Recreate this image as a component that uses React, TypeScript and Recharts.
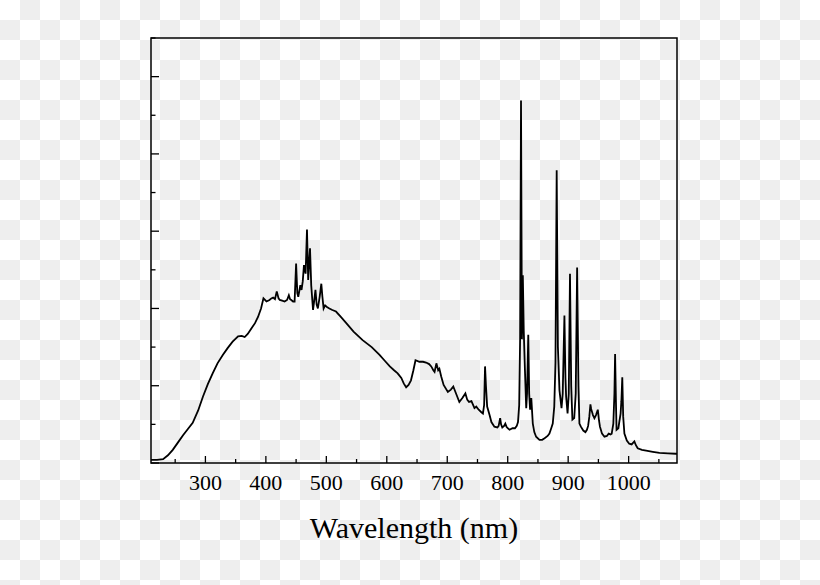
import React from "react";
import { LineChart, Line, XAxis, YAxis, ReferenceArea, Label } from "recharts";

const wavelength = [
  210, 220, 230, 238, 246, 255, 263, 271, 279, 288, 296, 304, 312, 320, 329, 337, 345, 354, 360, 365,
  370, 376, 382, 387, 392, 396, 401, 406, 409, 412, 415, 418, 421, 423, 427, 431, 435, 438, 440, 442,
  445, 447.5, 450, 452, 453.6, 457, 459, 461, 463, 465.7, 468, 470, 473, 475, 478, 480, 482, 484, 486, 489,
  491.7, 493.5, 495.5, 498, 501, 505, 510, 516, 524, 533, 545, 560, 575, 588, 597, 605, 612, 618, 624, 628,
  632, 636, 640, 644, 647.5, 654, 660, 665, 670, 673.5, 677, 679, 682, 685, 687, 690, 694, 701, 706, 710,
  715, 720, 725, 730, 733, 736, 740, 745, 748, 752, 756, 759, 761, 762.5, 764, 766, 770, 773, 778, 783,
  785, 787.5, 789, 791, 794, 796, 798, 800, 803, 808, 812, 815, 817, 819, 820.5, 822, 823.5, 825, 826.5, 828.5,
  830.6, 832, 834, 835.5, 837, 839, 841.5, 844, 847, 852.5, 857, 861, 866, 869, 872, 874.5, 877, 879, 881, 883,
  885.6, 889, 891, 893.8, 895.5, 896.6, 899, 901, 903, 905, 907, 910, 912.5, 914.8, 917, 918.6, 921, 925, 928.5, 931,
  933, 935, 936.8, 938, 939.5, 941, 943.4, 946, 949, 951, 952.6, 956, 960, 964, 967, 970, 972, 974.7, 976.5, 977.6,
  979, 980, 983, 986.7, 988, 989.5, 991, 993, 997, 1001, 1005, 1009.5, 1012, 1015, 1022, 1029, 1040, 1051, 1065, 1078,
  1080,
];

const intensity = [
  0.04, 0.04, 0.05, 0.1, 0.17, 0.27, 0.36, 0.44, 0.52, 0.68, 0.86, 1.02, 1.16, 1.29, 1.4, 1.49, 1.57, 1.64, 1.645, 1.63,
  1.67, 1.74, 1.81, 1.89, 2.0, 2.13, 2.09, 2.11, 2.13, 2.14, 2.12, 2.22, 2.13, 2.11, 2.1, 2.09, 2.11, 2.17, 2.12, 2.11,
  2.09, 2.09, 2.58, 2.2, 2.15, 2.3, 2.24, 2.35, 2.56, 2.45, 3.02, 2.37, 2.78, 2.3, 1.98, 2.1, 2.24, 2.05, 2.0, 2.15,
  2.32, 2.15, 2.0, 2.04, 2.02, 2.0, 1.98, 1.96, 1.89, 1.81, 1.7, 1.59, 1.5, 1.4, 1.32, 1.25, 1.2, 1.16, 1.1, 1.03,
  0.98, 1.01, 1.07, 1.2, 1.33, 1.31, 1.31, 1.3, 1.28, 1.25, 1.2, 1.18, 1.29, 1.2, 1.22, 1.12, 1.01, 0.92, 0.95, 0.99,
  0.89, 0.79, 0.84, 0.9, 0.82, 0.79, 0.8, 0.71, 0.73, 0.69, 0.66, 0.64, 0.75, 1.25, 1.0, 0.73, 0.62, 0.53, 0.47, 0.46,
  0.48, 0.58, 0.5, 0.46, 0.48, 0.51, 0.47, 0.45, 0.43, 0.45, 0.45, 0.48, 0.53, 0.75, 1.6, 4.69, 1.6, 2.43, 1.72, 1.2,
  0.71, 0.9, 1.66, 0.9, 0.69, 0.84, 0.51, 0.4, 0.34, 0.3, 0.3, 0.32, 0.35, 0.38, 0.45, 0.51, 0.73, 1.3, 3.79, 1.5,
  0.94, 0.71, 0.9, 1.91, 1.1, 0.86, 0.64, 0.9, 2.45, 1.0, 0.56, 0.58, 0.9, 2.53, 1.0, 0.51, 0.47, 0.42, 0.4, 0.43,
  0.48, 0.6, 0.76, 0.7, 0.66, 0.62, 0.58, 0.62, 0.69, 0.55, 0.47, 0.38, 0.34, 0.35, 0.38, 0.37, 0.38, 0.51, 0.9, 1.41,
  0.8, 0.43, 0.45, 0.64, 0.8, 1.11, 0.6, 0.38, 0.29, 0.25, 0.24, 0.28, 0.23, 0.19, 0.17, 0.16, 0.145, 0.13, 0.125, 0.12,
  0.12,
];

const xTicks = [250, 300, 350, 400, 450, 500, 550, 600, 650, 700, 750, 800, 850, 900, 950, 1000, 1050];
const yTicks = [0, 0.5, 1, 1.5, 2, 2.5, 3, 3.5, 4, 4.5, 5, 5.5];
const xDomain = [210, 1080];
const yDomain = [0, 5.5];
const xTitle = "Wavelength (nm)";

const data = wavelength.map((w, i) => ({ w, v: intensity[i] }));

const SERIF = "'Liberation Serif', 'Times New Roman', 'DejaVu Serif', serif";

const XTick = (props: any) => {
  const { x, y, payload } = props;
  const val = payload.value;
  const major = val % 100 === 0;
  return (
    <g>
      <line x1={x} x2={x} y1={y} y2={y - (major ? 7 : 4)} stroke="#000" strokeWidth={1.3} />
      {major && (
        <text x={x} y={y + 27} textAnchor="middle" fontFamily={SERIF} fontSize={22} fill="#000">
          {val}
        </text>
      )}
    </g>
  );
};

const YTick = (props: any) => {
  const { x, y, payload } = props;
  const val = payload.value;
  const major = Number.isInteger(val);
  return <line x1={x} x2={x + (major ? 8 : 4.5)} y1={y} y2={y} stroke="#000" strokeWidth={1.3} />;
};

export default function App() {
  return (
    <div
      style={{
        position: "absolute",
        left: 0,
        top: 0,
        width: 820,
        height: 585,
        backgroundColor: "#ffffff",
        backgroundImage: "repeating-conic-gradient(#eeeeee 0 25%, #ffffff 0 50%)",
        backgroundSize: "40px 40px",
      }}
    >
      <LineChart width={820} height={585} data={data} margin={{ top: 38, right: 143, bottom: 92, left: 91 }}>
        <XAxis
          dataKey="w"
          type="number"
          domain={xDomain}
          allowDataOverflow
          ticks={xTicks}
          interval={0}
          tickSize={0}
          tickMargin={0}
          axisLine={false}
          tickLine={false}
          tick={<XTick />}
          height={30}
        >
          <Label
            value={xTitle}
            position="bottom"
            offset={24}
            style={{ fontFamily: SERIF, fontSize: 30, fill: "#000" }}
          />
        </XAxis>
        <YAxis
          type="number"
          domain={yDomain}
          allowDataOverflow
          ticks={yTicks}
          interval={0}
          tickSize={0}
          tickMargin={0}
          axisLine={false}
          tickLine={false}
          tick={<YTick />}
          width={60}
        />
        <ReferenceArea
          x1={xDomain[0]}
          x2={xDomain[1]}
          y1={yDomain[0]}
          y2={yDomain[1]}
          fill="none"
          fillOpacity={0}
          stroke="#000"
          strokeWidth={1.5}
          ifOverflow="visible"
        />
        <Line
          type="linear"
          dataKey="v"
          stroke="#000"
          strokeWidth={1.8}
          dot={false}
          activeDot={false}
          isAnimationActive={false}
        />
      </LineChart>
    </div>
  );
}
